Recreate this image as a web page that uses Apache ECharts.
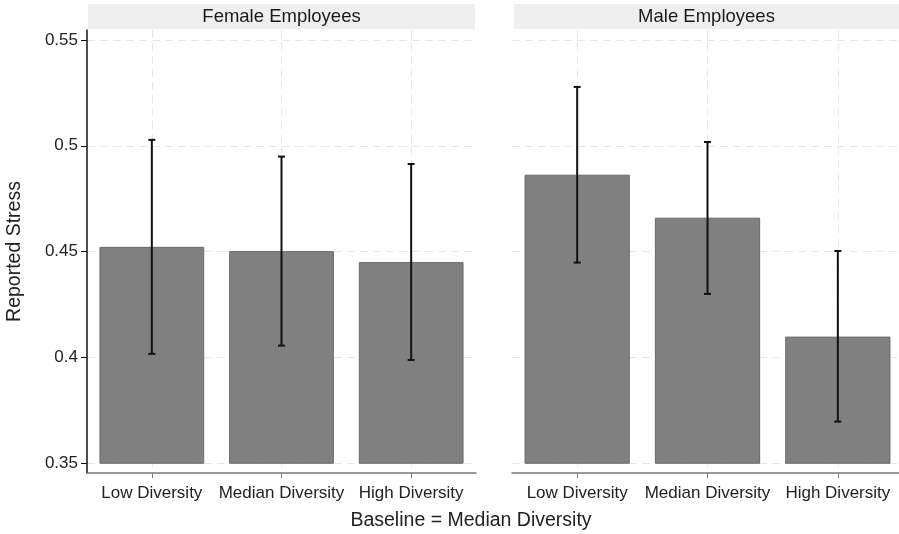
<!DOCTYPE html>
<html>
<head>
<meta charset="utf-8">
<script src="https://cdn.jsdelivr.net/npm/echarts@6/dist/echarts.min.js"></script>
<style>
  html, body { margin: 0; padding: 0; background: #fff; }
  #chart { width: 899px; height: 534px; }
</style>
</head>
<body>
<div id="chart"></div>
<script>
// Diversity groups on the x axis of each panel
const categories = ['Low Diversity', 'Median Diversity', 'High Diversity'];
const panelTitles = ['Female Employees', 'Male Employees'];

// Mean reported stress with confidence interval bounds
const femaleMean  = [0.452, 0.450, 0.4448];
const femaleLower = [0.4017, 0.4056, 0.3988];
const femaleUpper = [0.5028, 0.4949, 0.4914];

const maleMean  = [0.4861, 0.4658, 0.4096];
const maleLower = [0.4448, 0.4300, 0.3697];
const maleUpper = [0.5278, 0.5018, 0.4503];

// Y axis ticks and the baseline the bars rise from
const yTicks = [0.35, 0.4, 0.45, 0.5, 0.55];
const yTickLabels = ['0.35', '0.4', '0.45', '0.5', '0.55'];
const barBase = 0.35;

const FONT = 'Liberation Sans, Arial, Helvetica, sans-serif';
const gridDash = { color: '#e6e6e6', type: [8, 5], width: 1 };

const chart = echarts.init(document.getElementById('chart'), null, { renderer: 'canvas' });

function barItem(params, api) {
  const x = api.value(0);
  const top = api.coord([x, api.value(1)]);
  const base = api.coord([x, barBase]);
  const w = api.size([1, 0])[0] * 0.8;
  return {
    type: 'rect',
    shape: { x: top[0] - w / 2, y: top[1], width: w, height: base[1] - top[1] },
    style: { fill: '#808080', stroke: '#6a6a6a', lineWidth: 1 }
  };
}

function errItem(params, api) {
  const x = api.value(0);
  const lo = api.coord([x, api.value(1)]);
  const hi = api.coord([x, api.value(2)]);
  const cap = 3.5;
  const style = { stroke: '#111', lineWidth: 2 };
  return {
    type: 'group',
    children: [
      { type: 'line', shape: { x1: lo[0], y1: lo[1], x2: hi[0], y2: hi[1] }, style },
      { type: 'line', shape: { x1: hi[0] - cap, y1: hi[1], x2: hi[0] + cap, y2: hi[1] }, style },
      { type: 'line', shape: { x1: lo[0] - cap, y1: lo[1], x2: lo[0] + cap, y2: lo[1] }, style }
    ]
  };
}

function makeXAxis(idx) {
  return {
    type: 'category',
    gridIndex: idx,
    data: categories,
    boundaryGap: true,
    axisLine: { show: true, lineStyle: { color: '#7a7a7a', width: 1.5 } },
    axisTick: { show: true, alignWithLabel: true, length: 5, lineStyle: { color: '#7a7a7a', width: 1 } },
    axisLabel: { color: '#222', fontSize: 17, fontFamily: FONT, margin: 12, interval: 0 },
    splitLine: { show: true, alignWithLabel: true, lineStyle: gridDash }
  };
}

function makeYAxis(idx, visible) {
  return {
    type: 'value',
    gridIndex: idx,
    min: 0.3454,
    max: 0.5547,
    name: visible ? 'Reported Stress' : '',
    nameLocation: 'middle',
    nameGap: 62,
    nameRotate: 90,
    nameTextStyle: { color: '#222', fontSize: 19.5, fontFamily: FONT },
    axisLine: { show: visible, lineStyle: { color: '#111', width: 1.5 } },
    axisTick: { show: visible, length: 6, customValues: yTicks, lineStyle: { color: '#111', width: 1 } },
    axisLabel: {
      show: visible, customValues: yTicks, color: '#222', fontSize: 17, fontFamily: FONT, margin: 9,
      formatter: v => yTickLabels[yTicks.findIndex(t => Math.abs(t - v) < 1e-9)] ?? ''
    },
    splitLine: { show: true, lineStyle: gridDash }
  };
}

function seriesFor(idx, mean, lower, upper) {
  return [
    {
      type: 'custom', xAxisIndex: idx, yAxisIndex: idx, z: 2,
      renderItem: barItem,
      encode: { x: 0, y: 1 },
      data: mean.map((v, i) => [i, v])
    },
    {
      type: 'custom', xAxisIndex: idx, yAxisIndex: idx, z: 3,
      renderItem: errItem,
      encode: { x: 0, y: [1, 2] },
      data: lower.map((v, i) => [i, v, upper[i]])
    }
  ];
}

// Plot areas; the right-hand panel runs a little past the canvas edge
const panels = [{ left: 87, width: 389 }, { left: 512, width: 391 }];
// Grey title strips above each panel
const strips = [{ x: 88, w: 387 }, { x: 514, w: 385 }];

const graphics = [];
strips.forEach((s, i) => {
  graphics.push({
    type: 'rect', left: s.x, top: 4,
    shape: { width: s.w, height: 25 },
    style: { fill: '#efefef' }, z: 0
  });
  graphics.push({
    type: 'text', x: s.x + s.w / 2, y: 17,
    style: { text: panelTitles[i], fill: '#1a1a1a', font: '18.5px ' + FONT, textAlign: 'center', textVerticalAlign: 'middle' }
  });
});
graphics.push({
  type: 'text', x: 471, y: 521,
  style: { text: 'Baseline = Median Diversity', fill: '#222', font: '19.5px ' + FONT, textAlign: 'center', textVerticalAlign: 'middle' }
});

chart.setOption({
  animation: false,
  backgroundColor: '#ffffff',
  grid: panels.map(p => ({ left: p.left, width: p.width, top: 30, bottom: 61, outerBoundsMode: 'none' })),
  xAxis: [makeXAxis(0), makeXAxis(1)],
  yAxis: [makeYAxis(0, true), makeYAxis(1, false)],
  graphic: graphics,
  series: [
    ...seriesFor(0, femaleMean, femaleLower, femaleUpper),
    ...seriesFor(1, maleMean, maleLower, maleUpper)
  ]
});
</script>
</body>
</html>
